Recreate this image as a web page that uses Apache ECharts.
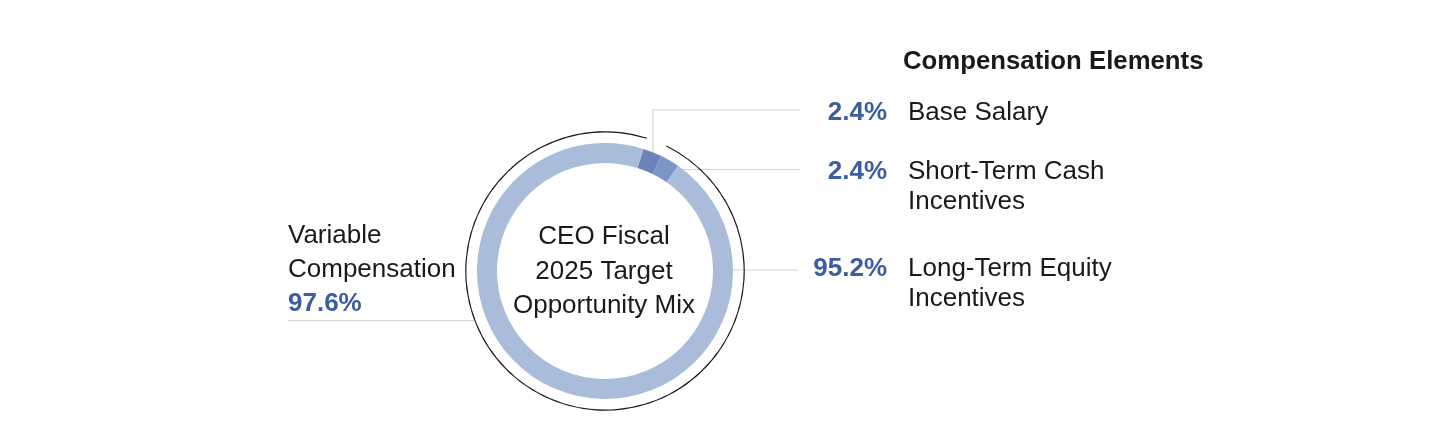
<!DOCTYPE html>
<html>
<head>
<meta charset="utf-8">
<script src="https://cdn.jsdelivr.net/npm/echarts@6/dist/echarts.min.js"></script>
<style>
html,body{margin:0;padding:0;background:#fff;}
#chart{width:1450px;height:436px;}
</style>
</head>
<body>
<div id="chart"></div>
<script>
// ---- data ----
const categories = ['Base Salary', 'Short-Term Cash\nIncentives', 'Long-Term Equity\nIncentives'];
const values = [2.4, 2.4, 95.2];
const variableName = 'Variable\nCompensation';
const variableValue = 97.6;
const legendTitle = 'Compensation Elements';
const centerTitle = 'CEO Fiscal\n2025 Target\nOpportunity Mix';

// ---- layout / style ----
const FONT = '"Liberation Sans", Arial, Helvetica, sans-serif';
const CX = 605, CY = 271;
const START_FROM_TOP = 17.5; // degrees clockwise from 12 o'clock
const colors = ['#6a83b9', '#7b95c6', '#a9bcd9'];
const blue = '#3a5ea0';
const lineColor = '#d3d3cf';
const textColor = '#1a1a1a';

function polar(angFromTop, r) {
  const a = angFromTop * Math.PI / 180;
  return [CX + r * Math.sin(a), CY - r * Math.cos(a)];
}
const total = values.reduce((a, b) => a + b, 0);
const mid0 = START_FROM_TOP + (values[0] / 2) / total * 360;
const mid1 = START_FROM_TOP + (values[0] + values[1] / 2) / total * 360;
const p0 = polar(mid0 + 1.5, 121);
const p1 = polar(mid1, 118);
const p2 = polar(90, 118);

const labelX = 908, pctX = 887, lineEndX = 800;
const DY = 2;
const rows = [ {y: 111 + DY}, {y: 170 + DY}, {y: 267 + DY} ];

const chart = echarts.init(document.getElementById('chart'), null, {renderer: 'canvas'});

const graphics = [];
// legend title
graphics.push({type: 'text', x: 903, y: 60 + DY, silent: true,
  style: {text: legendTitle, font: 'bold 25.75px ' + FONT, fill: textColor, align: 'left', verticalAlign: 'middle'}});
// right labels
categories.forEach((name, i) => {
  graphics.push({type: 'text', x: pctX, y: rows[i].y, silent: true,
    style: {text: values[i].toFixed(1) + '%', font: 'bold 26px ' + FONT, fill: blue, align: 'right', verticalAlign: 'middle'}});
  graphics.push({type: 'text', x: labelX, y: rows[i].y - 15, silent: true,
    style: {text: name, font: '26px ' + FONT, fill: textColor, align: 'left', verticalAlign: 'top', lineHeight: 30}});
});
// left label
graphics.push({type: 'text', x: 288, y: 233.5 - 17 + DY, silent: true,
  style: {text: variableName, font: '26px ' + FONT, fill: textColor, align: 'left', verticalAlign: 'top', lineHeight: 34}});
graphics.push({type: 'text', x: 288, y: 301.5 + DY, silent: true,
  style: {text: variableValue.toFixed(1) + '%', font: 'bold 26px ' + FONT, fill: blue, align: 'left', verticalAlign: 'middle'}});
// center text
graphics.push({type: 'text', x: CX - 1, y: 234 - 17.3 + DY + 1, silent: true,
  style: {text: centerTitle, font: '26px ' + FONT, fill: textColor, align: 'center', verticalAlign: 'top', lineHeight: 34.6}});
// leader lines
const lineStyle = {stroke: lineColor, lineWidth: 1.2, fill: null};
graphics.push({type: 'polyline', silent: true, shape: {points: [p0, [p0[0], 110], [lineEndX, 110]]}, style: lineStyle});
graphics.push({type: 'polyline', silent: true, shape: {points: [[p1[0], 169.5], [lineEndX, 169.5]]}, style: lineStyle});
graphics.push({type: 'polyline', silent: true, shape: {points: [[p2[0], 270], [lineEndX - 2, 270]]}, style: lineStyle});
graphics.push({type: 'polyline', silent: true, shape: {points: [[288, 320.5], [474, 320.5]]}, style: lineStyle});

chart.setOption({
  animation: false,
  graphic: graphics,
  series: [
    {
      type: 'pie',
      center: [CX, CY],
      radius: [108, 128],
      startAngle: 90 - START_FROM_TOP,
      clockwise: true,
      silent: true,
      label: {show: false},
      labelLine: {show: false},
      itemStyle: {borderWidth: 0},
      data: categories.map((n, i) => ({name: n, value: values[i], itemStyle: {color: colors[i]}}))
    },
    {
      type: 'pie',
      center: [CX, CY],
      radius: [138.6, 139.8],
      startAngle: 90 - START_FROM_TOP,
      clockwise: true,
      silent: true,
      label: {show: false},
      labelLine: {show: false},
      itemStyle: {borderWidth: 0},
      data: [
        {name: categories[0], value: values[0], itemStyle: {color: 'rgba(0,0,0,0)'}},
        {name: 'Variable Compensation', value: variableValue, itemStyle: {color: '#1a1a1a'}}
      ]
    }
  ]
});
</script>
</body>
</html>
